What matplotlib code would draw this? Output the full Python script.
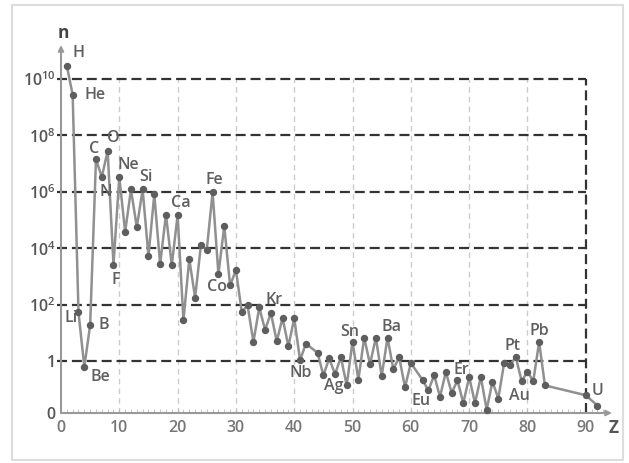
import matplotlib
matplotlib.use("Agg")
import matplotlib.pyplot as plt
from matplotlib.patches import Rectangle
import numpy as np

plt.rcParams['font.family'] = ['Open Sans', 'DejaVu Sans']
plt.rcParams['mathtext.fontset'] = 'custom'
plt.rcParams['mathtext.rm'] = 'Open Sans:semibold'
plt.rcParams['mathtext.it'] = 'Open Sans:semibold'

# ---- data ----
Z = [1, 2, 3, 4, 5, 6, 7, 8, 9, 10,
     11, 12, 13, 14, 15, 16, 17, 18, 19, 20,
     21, 22, 23, 24, 25, 26, 27, 28, 29, 30,
     31, 32, 33, 34, 35, 36, 37, 38, 39, 40,
     41, 42, 44, 45, 46, 47, 48, 49, 50,
     51, 52, 53, 54, 55, 56, 57, 58, 59, 60,
     62, 63, 64, 65, 66, 67, 68, 69, 70,
     71, 72, 73, 74, 75, 76, 77, 78, 79, 80,
     81, 82, 83, 90, 92]
n = [2.8e10, 2.7e9, 54, 0.63, 19.5, 1.4e7, 3.3e6, 2.8e7, 2600, 3.3e6,
     3.8e4, 1.2e6, 5.5e4, 1.2e6, 5200, 8.1e5, 2700, 1.55e5, 2500, 1.5e5,
     28, 4100, 180, 1.3e4, 8700, 9.5e5, 1200, 6.2e4, 480, 1700,
     56, 95, 4.8, 80, 13, 51, 5.1, 34, 3.4, 33,
     1.1, 4.2, 2.0, 0.32, 1.26, 0.35, 1.4, 0.14, 5.0,
     0.22, 6.9, 0.78, 6.9, 0.30, 6.9, 0.52, 1.4, 0.12, 0.87,
     0.22, 0.093, 0.32, 0.055, 0.42, 0.076, 0.21, 0.033, 0.28,
     0.033, 0.28, 0.0195, 0.19, 0.048, 0.87, 0.72, 1.4, 0.20, 0.42,
     0.20, 4.8, 0.14, 0.063, 0.027]

labels = ['H', 'He', 'C', 'O', 'N', 'Ne', 'Si', 'F', 'Ca', 'Fe', 'Co', 'Kr',
          'Li', 'B', 'Be', 'Nb', 'Ag', 'Sn', 'Ba', 'Eu', 'Er', 'Pt', 'Au', 'Pb', 'U']
label_Z = [1, 2, 6, 8, 7, 10, 14, 9, 20, 26, 27, 36,
           3, 5, 4, 41, 47, 50, 56, 63, 68, 78, 79, 82, 92]
label_off = [(12, 13), (22, 0), (-2, 10), (6, 13), (4, -15), (9, 12), (3, 12), (2, -15),
             (3, 12), (2, 12), (-1, -13), (3, 13),
             (-7, -6), (14, 0), (16, -10), (1, -13), (-1, -12), (-3, 10), (4, 11),
             (-7, -11), (4, 10), (-3, 11), (-2, -15), (0, 11), (0, 15)]

xticks = [0, 10, 20, 30, 40, 50, 60, 70, 80, 90]
ytick_vals = [10**-1.83, 1, 1e2, 1e4, 1e6, 1e8, 1e10]
ytick_labels = ['0', '1', r'$10^{2}$', r'$10^{4}$', r'$10^{6}$', r'$10^{8}$', r'$10^{10}$']

# ---- figure ----
W, H = 629, 463
fig = plt.figure(figsize=(W / 100, H / 100), dpi=100)
fig.patches.append(Rectangle((12 / W, 3 / H), 611 / W, 455 / H, transform=fig.transFigure,
                             fill=False, edgecolor='#dddddd', lw=1.5))
ax = fig.add_axes([61 / W, (H - 413) / H, (612 - 61) / W, (413 - 45) / H])
ax.set_yscale('log')
ymin, ymax = 10**-1.83, 10**11.19
ax.set_xlim(0, 94.5)
ax.set_ylim(ymin, ymax)
for s in ax.spines.values():
    s.set_visible(False)

# grid
for xv in xticks[1:-1]:
    ax.plot([xv, xv], [ymin, 1e10], color='#cccccc', lw=1, ls=(0, (4, 3)), zorder=1)
for yv in ytick_vals[1:]:
    ax.plot([-0.7, 90], [yv, yv], color='#333333', lw=1.6, ls=(0, (4.5, 2.2)), zorder=2,
            clip_on=False)
ax.plot([90, 90], [ymin, 1e10], color='#333333', lw=1.6, ls=(0, (4.5, 2.2)), zorder=2)

# axes arrows
ax.annotate('', xy=(0, 1.0), xytext=(0, 0), xycoords='axes fraction',
            arrowprops=dict(arrowstyle='-|>', color='#999999', lw=1.5, mutation_scale=8,
                            shrinkA=0, shrinkB=0), zorder=3)
ax.annotate('', xy=(1.0, 0), xytext=(0, 0), xycoords='axes fraction',
            arrowprops=dict(arrowstyle='-|>', color='#999999', lw=1.5, mutation_scale=8,
                            shrinkA=0, shrinkB=0), zorder=3)

# data
ax.plot(Z, n, color='#909090', lw=1.8, zorder=4, clip_on=False)
ax.plot(Z, n, 'o', color='#5e5e5e', ms=4.3, zorder=5, clip_on=False)

zn = dict(zip(Z, n))
for lab, z, off in zip(labels, label_Z, label_off):
    ax.annotate(lab, xy=(z, zn[z]), xytext=off, textcoords='offset pixels',
                ha='center', va='center', fontsize=11.5, fontweight='semibold',
                color='#5f5f5f', zorder=6)

# ticks
ax.set_xticks(xticks)
ax.set_xticklabels([str(v) for v in xticks])
ax.set_xticks(np.arange(0, 94, 1), minor=True)
ax.tick_params(axis='x', which='both', direction='in', length=3, color='#bbbbbb',
               labelsize=11.5, labelcolor='#777777', pad=5)
for t in ax.get_xticklabels():
    t.set_fontweight('semibold')
ax.set_yticks(ytick_vals)
ax.set_yticklabels(ytick_labels)
ax.yaxis.set_minor_locator(matplotlib.ticker.NullLocator())
ax.tick_params(axis='y', which='both', length=0, labelsize=11.5, labelcolor='#555555', pad=4)
for t in ax.get_yticklabels():
    t.set_fontweight('semibold')

fig.text(63 / W, (H - 33) / H, 'n', ha='center', va='center', fontsize=12.5,
         fontweight='bold', color='#444444')
fig.text(614 / W, (H - 428) / H, 'Z', ha='center', va='center', fontsize=12.5,
         fontweight='bold', color='#555555')

fig.savefig('out.png', dpi=100)
